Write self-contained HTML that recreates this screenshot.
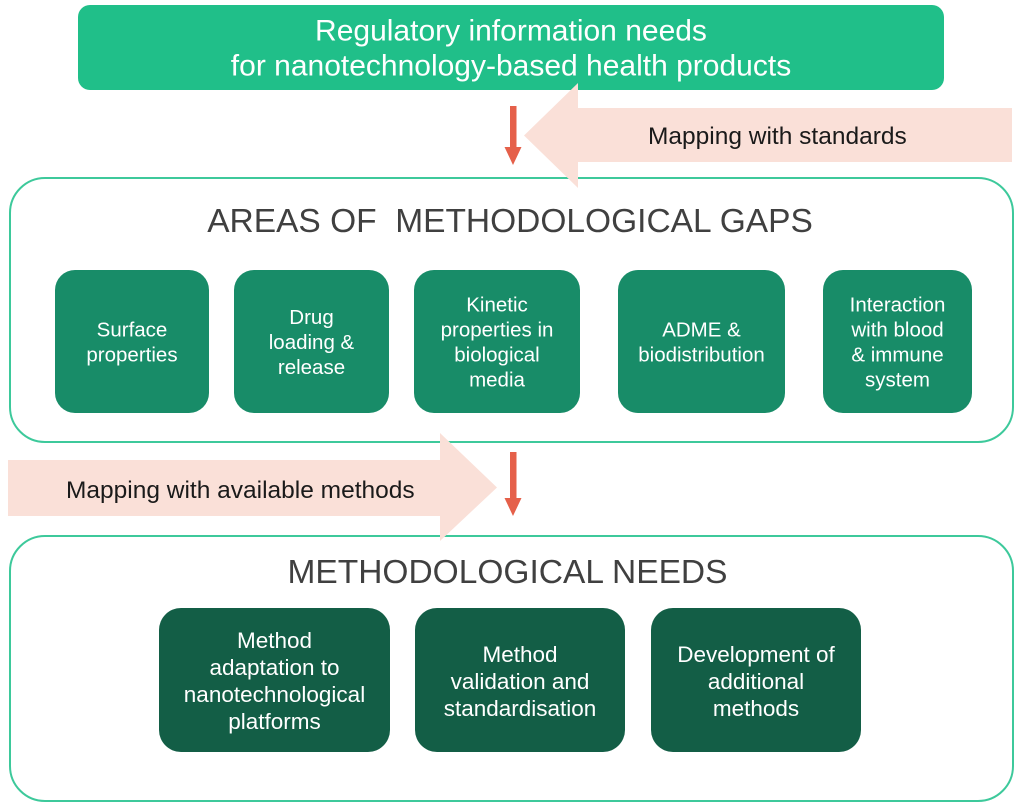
<!DOCTYPE html>
<html>
<head>
<meta charset="utf-8">
<style>
  html,body{margin:0;padding:0;background:#fff;}
  body{width:1024px;height:807px;overflow:hidden;}
  svg{display:block;}
  text{font-family:"Liberation Sans",Arial,sans-serif;}
</style>
</head>
<body>
<svg width="1024" height="807" viewBox="0 0 1024 807" xmlns="http://www.w3.org/2000/svg">
  <rect x="0" y="0" width="1024" height="807" fill="#ffffff"/>

  <!-- Top box -->
  <rect x="78" y="5" width="866" height="85" rx="12" ry="12" fill="#20bf89"/>
  <text x="511" y="40.5" font-size="30" fill="#ffffff" text-anchor="middle">Regulatory information needs</text>
  <text x="511" y="75.5" font-size="30" fill="#ffffff" text-anchor="middle">for nanotechnology-based health products</text>

  <!-- Areas outer box -->
  <rect x="10" y="178" width="1003" height="264" rx="35" ry="35" fill="none" stroke="#3dc99b" stroke-width="2"/>
  <text x="510" y="232" font-size="33.5" fill="#404040" text-anchor="middle" xml:space="preserve" style="white-space:pre">AREAS OF  METHODOLOGICAL GAPS</text>

  <!-- Area inner boxes -->
  <g fill="#188c68">
    <rect x="55" y="270" width="154" height="143" rx="20" ry="20"/>
    <rect x="234" y="270" width="155" height="143" rx="20" ry="20"/>
    <rect x="414" y="270" width="166" height="143" rx="20" ry="20"/>
    <rect x="618" y="270" width="167" height="143" rx="20" ry="20"/>
    <rect x="823" y="270" width="149" height="143" rx="20" ry="20"/>
  </g>
  <g font-size="20.5" fill="#ffffff" text-anchor="middle">
    <text x="132" y="336.5">Surface</text>
    <text x="132" y="361.5">properties</text>

    <text x="311.5" y="324">Drug</text>
    <text x="311.5" y="349">loading &amp;</text>
    <text x="311.5" y="374">release</text>

    <text x="497" y="311.5">Kinetic</text>
    <text x="497" y="336.5">properties in</text>
    <text x="497" y="361.5">biological</text>
    <text x="497" y="386.5">media</text>

    <text x="701.5" y="336.5">ADME &amp;</text>
    <text x="701.5" y="361.5">biodistribution</text>

    <text x="897.5" y="311.5">Interaction</text>
    <text x="897.5" y="336.5">with blood</text>
    <text x="897.5" y="361.5">&amp; immune</text>
    <text x="897.5" y="386.5">system</text>
  </g>

  <!-- Methodological needs outer box -->
  <rect x="10" y="536" width="1003" height="265" rx="35" ry="35" fill="none" stroke="#3dc99b" stroke-width="2"/>
  <text x="507.5" y="583" font-size="33.5" fill="#404040" text-anchor="middle">METHODOLOGICAL NEEDS</text>

  <g fill="#135e46">
    <rect x="159" y="608" width="231" height="144" rx="22" ry="22"/>
    <rect x="415" y="608" width="210" height="144" rx="22" ry="22"/>
    <rect x="651" y="608" width="210" height="144" rx="22" ry="22"/>
  </g>
  <g font-size="22.5" fill="#ffffff" text-anchor="middle">
    <text x="274.5" y="648">Method</text>
    <text x="274.5" y="675">adaptation to</text>
    <text x="274.5" y="702">nanotechnological</text>
    <text x="274.5" y="729">platforms</text>

    <text x="520" y="662">Method</text>
    <text x="520" y="689">validation and</text>
    <text x="520" y="716">standardisation</text>

    <text x="756" y="662">Development of</text>
    <text x="756" y="689">additional</text>
    <text x="756" y="716">methods</text>
  </g>

  <!-- Pink arrow 1 (mapping with standards) -->
  <polygon points="1012,108 578,108 578,83 524,135.5 578,188 578,162 1012,162" fill="#fae0d8"/>
  <text x="648" y="144" font-size="24.5" fill="#1a1a1a">Mapping with standards</text>

  <!-- Pink arrow 2 (mapping with available methods) -->
  <polygon points="8,460 440,460 440,433 497,487.5 440,541 440,516 8,516" fill="#fae0d8"/>
  <text x="66" y="498" font-size="24.5" fill="#1a1a1a">Mapping with available methods</text>

  <!-- Red arrows -->
  <g fill="#e5604a">
    <rect x="510" y="106" width="6.5" height="42"/>
    <polygon points="504.5,147 521.5,147 513,165"/>
    <rect x="510" y="452" width="6.5" height="47"/>
    <polygon points="504.5,498 521.5,498 513,516"/>
  </g>
</svg>
</body>
</html>
